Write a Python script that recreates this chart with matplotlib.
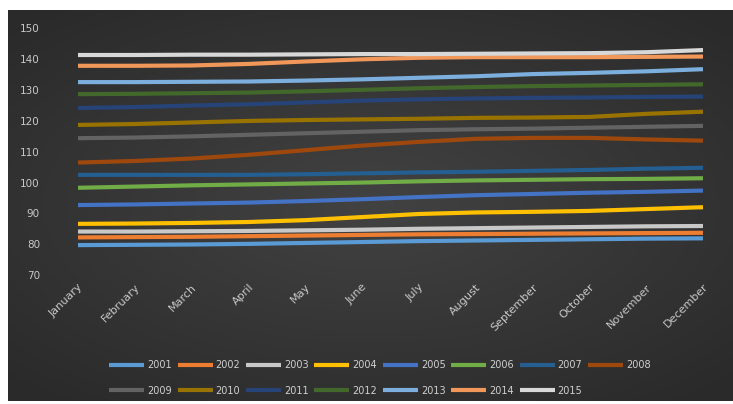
import matplotlib
matplotlib.use("Agg")
import matplotlib.pyplot as plt
import numpy as np

# ── data ──────────────────────────────────────────────────────────────────────
months = ["January", "February", "March", "April", "May", "June", "July",
          "August", "September", "October", "November", "December"]
years = [str(y) for y in range(2001, 2016)]

s2001 = [79.7, 79.8, 79.9, 80.1, 80.4, 80.7, 81.0, 81.2, 81.4, 81.6, 81.8, 81.9]
s2002 = [82.2, 82.3, 82.4, 82.6, 82.8, 83.0, 83.2, 83.3, 83.4, 83.5, 83.6, 83.7]
s2003 = [84.1, 84.1, 84.2, 84.3, 84.5, 84.7, 85.0, 85.2, 85.4, 85.6, 85.8, 85.9]
s2004 = [86.6, 86.7, 86.9, 87.2, 87.8, 88.8, 89.8, 90.3, 90.5, 90.8, 91.4, 92.0]
s2005 = [92.7, 92.9, 93.2, 93.5, 94.0, 94.6, 95.3, 95.9, 96.3, 96.7, 97.0, 97.4]
s2006 = [98.3, 98.7, 99.1, 99.4, 99.7, 100.0, 100.4, 100.7, 100.9, 101.1, 101.2, 101.4]
s2007 = [102.5, 102.5, 102.5, 102.5, 102.7, 103.0, 103.3, 103.5, 103.8, 104.1, 104.5, 104.8]
s2008 = [106.5, 107.0, 107.8, 109.0, 110.5, 112.0, 113.2, 114.2, 114.5, 114.5, 114.0, 113.6]
s2009 = [114.4, 114.6, 115.0, 115.5, 116.0, 116.5, 117.0, 117.3, 117.5, 117.8, 118.1, 118.4]
s2010 = [118.7, 119.0, 119.5, 120.0, 120.3, 120.5, 120.7, 121.0, 121.1, 121.3, 122.3, 123.0]
s2011 = [124.2, 124.5, 125.0, 125.4, 126.0, 126.6, 127.0, 127.3, 127.5, 127.6, 127.8, 127.9]
s2012 = [128.7, 128.8, 129.0, 129.2, 129.6, 130.1, 130.6, 131.0, 131.3, 131.5, 131.7, 131.9]
s2013 = [132.6, 132.6, 132.7, 132.8, 133.1, 133.5, 134.0, 134.5, 135.2, 135.6, 136.1, 136.8]
s2014 = [137.9, 137.9, 138.0, 138.5, 139.3, 140.0, 140.5, 140.7, 140.7, 140.7, 140.8, 140.9]
s2015 = [141.4, 141.4, 141.5, 141.5, 141.6, 141.7, 141.7, 141.8, 141.9, 142.0, 142.3, 143.0]

series = [s2001, s2002, s2003, s2004, s2005, s2006, s2007, s2008,
          s2009, s2010, s2011, s2012, s2013, s2014, s2015]

# Office palette
colors = ["#5B9BD5", "#ED7D31", "#C8C8C8", "#FFC000", "#4472C4", "#70AD47",
          "#255E91", "#9E480E", "#636363", "#997300", "#264478", "#43682B",
          "#7CAFDD", "#F1975A", "#D8D8D8"]

# ── plot ──────────────────────────────────────────────────────────────────────
W, H = 733, 404
fig = plt.figure(figsize=(W / 100, H / 100), dpi=100)
fig.patch.set_facecolor("white")

# dark radial background
bg = fig.add_axes([8 / W, 3 / H, 725 / W, 391 / H])
gx, gy = np.meshgrid(np.linspace(-1, 1, 300), np.linspace(-1, 1, 200))
r = np.sqrt((gx * 0.9) ** 2 + (gy * 1.0) ** 2)
bg.imshow(np.clip(r, 0, 1.3), cmap=matplotlib.colors.LinearSegmentedColormap.from_list(
    "bg", ["#424242", "#2a2a2a"]), aspect="auto", extent=[0, 1, 0, 1])
bg.set_axis_off()

left, right = 49.6, 731.4
ax = fig.add_axes([left / W, (H - 275) / H, (right - left) / W, (275 - 28.5) / H])
ax.patch.set_alpha(0)

x = np.arange(len(months))
lines = []
for yr, vals, c in zip(years, series, colors):
    ln, = ax.plot(x, vals, color=c, lw=3.0, solid_capstyle="butt",
                  solid_joinstyle="round", label=yr)
    lines.append(ln)

ax.set_xlim(-0.5, 11.5)
ax.set_ylim(70, 150)
ax.set_yticks(np.arange(70, 151, 10))
ax.set_xticks(x)
ax.set_xticklabels(months, rotation=45, ha="right", va="top",
                   rotation_mode="anchor", fontsize=8)
ax.tick_params(axis="both", length=0, labelsize=7.5, labelcolor="#c8c8c8")
ax.tick_params(axis="y", pad=7)
ax.tick_params(axis="x", pad=5, labelsize=8)
for sp in ax.spines.values():
    sp.set_visible(False)

# legend, row-major order across 8 columns
order = [0, 8, 1, 9, 2, 10, 3, 11, 4, 12, 5, 13, 6, 14, 7]
leg = fig.legend([lines[i] for i in order], [years[i] for i in order],
                 ncol=8, loc="center", bbox_to_anchor=(380 / W, (H - 378) / H),
                 frameon=False, fontsize=7, handlelength=3.6, handletextpad=0.3,
                 columnspacing=0.6, labelspacing=1.6, labelcolor="#d0d0d0")

fig.savefig("out.png", dpi=100, facecolor=fig.get_facecolor())
